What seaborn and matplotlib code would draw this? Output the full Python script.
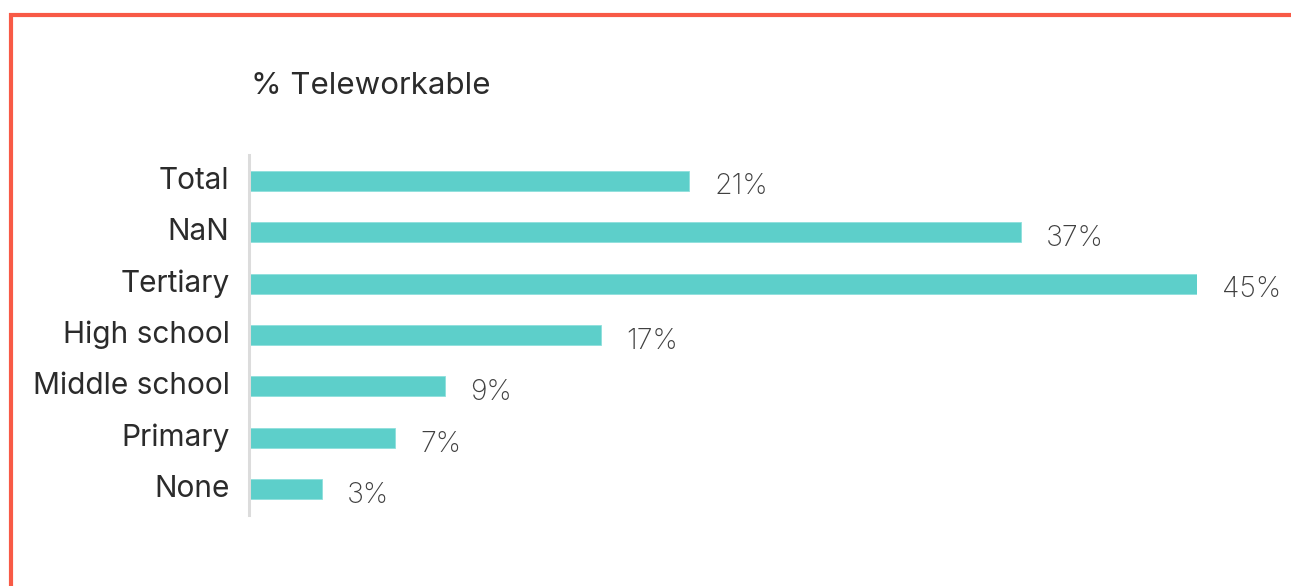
import matplotlib
matplotlib.use("Agg")
import matplotlib.pyplot as plt
import seaborn as sns
import pandas as pd
from matplotlib.lines import Line2D

categories = ["Total", "NaN", "Tertiary", "High school", "Middle school", "Primary", "None"]
values = [20.98, 36.8, 45.2, 16.8, 9.35, 6.96, 3.48]
title = "% Teleworkable"

sns.set_theme(style="white")
plt.rcParams["font.family"] = ["Inter", "DejaVu Sans"]

df = pd.DataFrame({"category": categories, "value": values})

W, H = 1291, 586
fig = plt.figure(figsize=(W / 100, H / 100), dpi=100)
ax = fig.add_axes([249 / W, 1 - 515 / H, 948 / W, 360 / H])

sns.barplot(data=df, y="category", x="value", orient="h", color="#5DCFCA",
            saturation=1, width=0.39, ax=ax, edgecolor="#8fe0dc", linewidth=0.6)

ax.set_xlim(0, max(values))
ax.set_ylim(len(categories) - 0.5, -0.5)
for s in ["top", "right", "bottom"]:
    ax.spines[s].set_visible(False)
ax.spines["left"].set_color("#dcdcdc")
ax.spines["left"].set_linewidth(2.2)
ax.set_xticks([])
ax.set_xlabel("")
ax.set_ylabel("")
ax.tick_params(axis="y", length=0, pad=14, labelsize=21.5, labelcolor="#2b2b2b")
for lbl in ax.get_yticklabels():
    lbl.set_verticalalignment("center")

for i, v in enumerate(values):
    ax.annotate(f"{round(v)}%", xy=(v, i), xytext=(18, -4.5), textcoords="offset points",
                ha="left", va="center", fontsize=20.5, color="#404040",
                fontweight="light", annotation_clip=False)

fig.text(251 / W, 1 - 86 / H, title, ha="left", va="center", fontsize=22.5, color="#2b2b2b")

red = "#F85A46"
fig.add_artist(Line2D([9 / W, 1], [1 - 14.5 / H, 1 - 14.5 / H], color=red, lw=3,
                      solid_capstyle="butt", transform=fig.transFigure))
fig.add_artist(Line2D([11 / W, 11 / W], [0, 1 - 13 / H], color=red, lw=3,
                      solid_capstyle="butt", transform=fig.transFigure))

fig.savefig("out.png", dpi=100, facecolor="white")
